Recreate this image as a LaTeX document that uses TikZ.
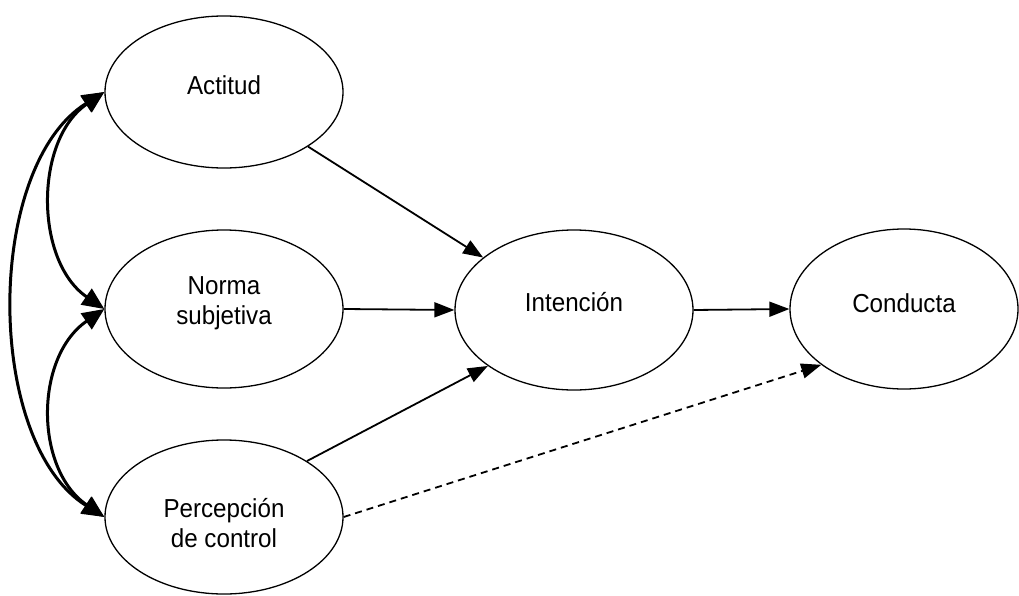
\documentclass[tikz,border=0pt]{standalone}
\usepackage{fontspec}
\setmainfont{Liberation Sans}[FakeStretch=0.93]
\usetikzlibrary{shapes.geometric,arrows.meta}
\tikzset{
  oval/.style={draw, ellipse, line width=1.3pt, inner sep=0pt},
  lbl/.style={font=\fontsize{26}{30}\selectfont, align=center, inner sep=0pt},
  arr/.style={line width=1.8pt, -{Triangle[length=20pt,width=15pt]}},
  dasharr/.style={arr, dash pattern=on 7pt off 5pt},
  corr/.style={line width=3pt, {Triangle[length=22pt,width=19pt]}-{Triangle[length=22pt,width=19pt]}}
}
\begin{document}
\begin{tikzpicture}[x=1pt,y=-1pt]
\useasboundingbox (0,0) rectangle (1019,596);
% ellipses
\node[oval, minimum width=238pt, minimum height=152pt] (A) at (224,92) {};
\node[oval, minimum width=238pt, minimum height=158pt] (N) at (224,309) {};
\node[oval, minimum width=238pt, minimum height=154pt] (P) at (224,517) {};
\node[oval, minimum width=238pt, minimum height=160pt] (I) at (574,310) {};
\node[oval, minimum width=228pt, minimum height=160pt] (C) at (904,309) {};
% labels
\node[lbl] (tA) at ([yshift=7pt]A.center) {Actitud};
\node[lbl] (tN) at ([yshift=6pt]N.center) {Norma\\subjetiva};
\node[lbl] (tP) at ([yshift=-6pt]P.center) {Percepción\\de control};
\node[lbl] (tI) at ([yshift=8pt]I.center) {Intención};
\node[lbl] (tC) at ([yshift=6pt]C.center) {Conducta};
% straight arrows
\draw[arr] (A.-33) -- (I.150);
\draw[arr] (N.east) -- (I.west);
\draw[arr] (P.34) -- (I.213);
\draw[arr] (I.east) -- (C.west);
\draw[dasharr] (P.east) -- (C.214);
% correlations
\draw[corr] (A.west) .. controls +(-70,48) and +(-70,-48) .. (N.west);
\draw[corr] (N.west) .. controls +(-70,48) and +(-70,-48) .. (P.west);
\draw[corr] (A.west) .. controls +(-120,75) and +(-120,-75) .. (P.west);
\end{tikzpicture}
\end{document}
